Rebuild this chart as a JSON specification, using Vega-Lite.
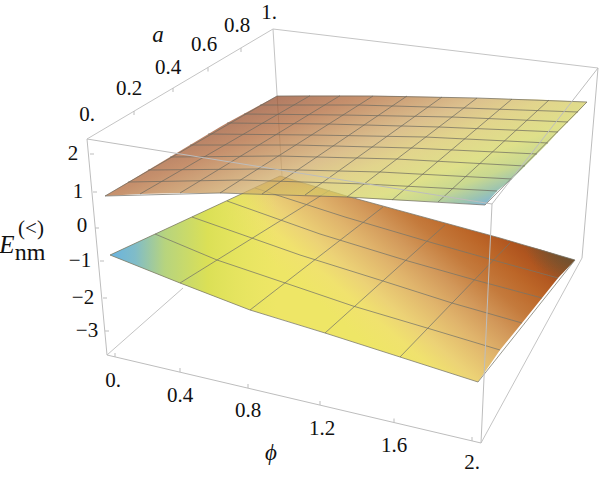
{
"$schema":"https://vega.github.io/schema/vega-lite/v6.json",
"width":600,"height":478,"padding":0,"autosize":{"type":"none"},
"background":"white",
"config":{"view":{"stroke":null}},
"datasets":{
"lower":[
{"px":110,"top":255,"bot":255},{"px":180,"top":222.5,"bot":283},{"px":250,"top":190,"bot":310},{"px":280,"top":176,"bot":319},{"px":325,"top":189.5,"bot":333},{"px":350,"top":197,"bot":341},{"px":400,"top":210.7,"bot":357},{"px":478,"top":232,"bot":382},{"px":500,"top":238,"bot":350},{"px":522,"top":244.5,"bot":323},{"px":542,"top":250,"bot":298},{"px":558,"top":255,"bot":278},{"px":575,"top":260,"bot":260}],
"upper":[
{"px":105,"top":196,"bot":196},{"px":140,"top":175,"bot":194},{"px":170,"top":157,"bot":193.2},{"px":180,"top":151,"bot":193},{"px":220,"top":127,"bot":193},{"px":227,"top":123,"bot":193.1},{"px":262,"top":104,"bot":194},{"px":277,"top":96,"bot":194.3},{"px":305,"top":95.7,"bot":195},{"px":347,"top":95.7,"bot":197},{"px":392,"top":96,"bot":200},{"px":438,"top":97,"bot":202},{"px":485,"top":98.2,"bot":205},{"px":497,"top":98.5,"bot":191},{"px":512,"top":99,"bot":179},{"px":525,"top":99.3,"bot":166},{"px":537,"top":99.6,"bot":154},{"px":548,"top":100,"bot":143},{"px":558,"top":100.5,"bot":132},{"px":568,"top":101,"bot":122},{"px":578,"top":101.5,"bot":112},{"px":587,"top":102,"bot":102}],
"back":[
{"a":87,"b":139,"c":273,"d":29},{"a":273,"b":29,"c":598,"d":68},{"a":273,"b":29,"c":282,"d":176},{"a":107,"b":355,"c":183,"d":288},{"a":582,"b":258,"c":481,"d":443}],
"front":[
{"a":87,"b":139,"c":492,"d":204},{"a":598,"b":68,"c":492,"d":204},{"a":87,"b":139,"c":107,"d":355},{"a":492,"b":204,"c":481,"d":443},{"a":598,"b":68,"c":582,"d":258},{"a":107,"b":355,"c":481,"d":443},
{"a":90,"b":154,"c":94,"d":154},{"a":93,"b":192,"c":97,"d":192},{"a":95,"b":228,"c":99,"d":228},{"a":100,"b":261,"c":104,"d":261},{"a":103,"b":298,"c":107,"d":298},{"a":105,"b":331,"c":109,"d":331},
{"a":134,"b":111,"c":134,"d":115},{"a":173,"b":88,"c":173,"d":92},{"a":208,"b":67.5,"c":208,"d":71.5},{"a":241,"b":48,"c":241,"d":52},
{"a":115,"b":357,"c":115,"d":353},{"a":180,"b":372,"c":180,"d":368},{"a":248,"b":388,"c":248,"d":384},{"a":320,"b":405,"c":320,"d":401},{"a":394,"b":422.5,"c":394,"d":418.5},{"a":472,"b":441,"c":472,"d":437}],
"lowerPhi":[
{"a":110,"b":255,"c":280,"d":176},{"a":180,"b":283,"c":330,"d":190},{"a":250,"b":310,"c":383,"d":207},{"a":325,"b":333,"c":445,"d":225},{"a":400,"b":357,"c":510,"d":243},{"a":478,"b":382,"c":575,"d":260}],
"upperPhi":[
{"a":105,"b":196,"c":277,"d":96},{"a":140,"b":194,"c":310,"d":95.7},{"a":180,"b":193,"c":340,"d":95.7},{"a":220,"b":193,"c":373,"d":96},{"a":262,"b":194,"c":407,"d":96},{"a":305,"b":195,"c":442,"d":97},{"a":347,"b":197,"c":477,"d":98},{"a":392,"b":200,"c":512,"d":99},{"a":438,"b":202,"c":549,"d":100},{"a":485,"b":205,"c":587,"d":102}],
"lowerA":[
{"j":0,"px":110,"py":255},{"j":0,"px":180,"py":283},{"j":0,"px":250,"py":310},{"j":0,"px":325,"py":333},{"j":0,"px":400,"py":357},{"j":0,"px":478,"py":382},
{"j":1,"px":155,"py":234},{"j":1,"px":217,"py":260},{"j":1,"px":300,"py":288},{"j":1,"px":353,"py":306},{"j":1,"px":427,"py":328},{"j":1,"px":500,"py":350},
{"j":2,"px":192,"py":217},{"j":2,"px":300,"py":255},{"j":2,"px":383,"py":281},{"j":2,"px":452,"py":303},{"j":2,"px":522,"py":323},
{"j":3,"px":227,"py":201},{"j":3,"px":320,"py":234},{"j":3,"px":408,"py":261},{"j":3,"px":475,"py":280},{"j":3,"px":542,"py":298},
{"j":4,"px":255,"py":188},{"j":4,"px":345,"py":217},{"j":4,"px":433,"py":243},{"j":4,"px":493,"py":260},{"j":4,"px":558,"py":278},
{"j":5,"px":280,"py":176},{"j":5,"px":350,"py":197},{"j":5,"px":500,"py":238},{"j":5,"px":575,"py":260}],
"upperA":[
{"j":0,"px":105,"py":196},{"j":0,"px":220,"py":193},{"j":0,"px":347,"py":197},{"j":0,"px":485,"py":205},
{"j":1,"px":128,"py":182},{"j":1,"px":241,"py":180},{"j":1,"px":365,"py":184},{"j":1,"px":497,"py":191},
{"j":2,"px":148,"py":170},{"j":2,"px":259,"py":169},{"j":2,"px":380,"py":172},{"j":2,"px":512,"py":179},
{"j":3,"px":170,"py":157},{"j":3,"px":278,"py":156},{"j":3,"px":396,"py":159},{"j":3,"px":525,"py":166},
{"j":4,"px":190,"py":145},{"j":4,"px":296,"py":145},{"j":4,"px":411,"py":148},{"j":4,"px":537,"py":154},
{"j":5,"px":208,"py":134},{"j":5,"px":312,"py":135},{"j":5,"px":425,"py":137},{"j":5,"px":548,"py":143},
{"j":6,"px":227,"py":123},{"j":6,"px":328,"py":124},{"j":6,"px":439,"py":127},{"j":6,"px":558,"py":132},
{"j":7,"px":244,"py":114},{"j":7,"px":343,"py":115},{"j":7,"px":452,"py":117},{"j":7,"px":568,"py":122},
{"j":8,"px":260,"py":105},{"j":8,"px":358,"py":105},{"j":8,"px":464,"py":108},{"j":8,"px":578,"py":112},
{"j":9,"px":277,"py":96},{"j":9,"px":373,"py":96},{"j":9,"px":477,"py":98},{"j":9,"px":587,"py":102}],
"labels":[
{"t":"2","px":73,"py":154},{"t":"1","px":78,"py":192},{"t":"0","px":82,"py":226},{"t":"−1","px":80,"py":261},{"t":"−2","px":83,"py":298},{"t":"−3","px":87,"py":331},
{"t":"0.","px":87,"py":115},{"t":"0.2","px":129,"py":89},{"t":"0.4","px":168,"py":68},{"t":"0.6","px":204,"py":45},{"t":"0.8","px":237,"py":26},{"t":"1.","px":269,"py":13},
{"t":"0.","px":113,"py":381},{"t":"0.4","px":180,"py":396},{"t":"0.8","px":248,"py":411},{"t":"1.2","px":322,"py":429},{"t":"1.6","px":394,"py":446},{"t":"2.","px":472,"py":463},
{"t":"(<)","px":31,"py":229}],
"title":[{"t":"nm","px":30,"py":253}],
"titleE":[{"t":"E","px":7,"py":244.5}],
"italics":[{"t":"a","px":158,"py":35},{"t":"ϕ","px":271,"py":453}]
},
"encoding":{
"x":{"field":"px","type":"quantitative","scale":{"domain":[0,600],"nice":false,"zero":false},"axis":null},
"y":{"field":"py","type":"quantitative","scale":{"domain":[478,0],"nice":false,"zero":false},"axis":null}
},
"layer":[
{"data":{"name":"back"},"mark":{"type":"rule","stroke":"#c4c4c4","strokeWidth":1},
 "encoding":{"x":{"field":"a","type":"quantitative"},"y":{"field":"b","type":"quantitative"},"x2":{"field":"c"},"y2":{"field":"d"}}},
{"data":{"name":"lower"},"mark":{"type":"area","fill":{"gradient":"linear","x1":0.265,"y1":0.258,"x2":0.777,"y2":-0.004,"stops":[{"offset":0,"color":"#eee666"},{"offset":0.128,"color":"#f0e26e"},{"offset":0.231,"color":"#ecd276"},{"offset":0.385,"color":"#e0b46c"},{"offset":0.513,"color":"#d2985a"},{"offset":0.641,"color":"#c47a3c"},{"offset":0.769,"color":"#bc6628"},{"offset":0.872,"color":"#b0551f"},{"offset":1,"color":"#8a4a20"}]}},
 "encoding":{"y":{"field":"top","type":"quantitative"},"y2":{"field":"bot"}}},
{"data":{"name":"lower"},"mark":{"type":"area","fill":{"gradient":"linear","x1":0,"y1":0,"x2":1,"y2":0,"stops":[{"offset":0,"color":"rgba(104,179,224,1)"},{"offset":0.054,"color":"rgba(128,188,200,1)"},{"offset":0.118,"color":"rgba(183,212,126,1)"},{"offset":0.21,"color":"rgba(219,224,86,1)"},{"offset":0.36,"color":"rgba(228,230,96,0)"},{"offset":1,"color":"rgba(228,230,96,0)"}]}},
 "encoding":{"y":{"field":"top","type":"quantitative"},"y2":{"field":"bot"}}},
{"data":{"name":"lower"},"mark":{"type":"area","fill":{"gradient":"radial","x1":1,"y1":0.408,"r1":0,"x2":1,"y2":0.408,"r2":0.11,"stops":[{"offset":0,"color":"rgba(90,88,62,0.95)"},{"offset":1,"color":"rgba(90,88,62,0)"}]}},
 "encoding":{"y":{"field":"top","type":"quantitative"},"y2":{"field":"bot"}}},
{"data":{"name":"lowerPhi"},"mark":{"type":"rule","stroke":"#77756a","strokeWidth":1,"opacity":0.75},
 "encoding":{"x":{"field":"a","type":"quantitative"},"y":{"field":"b","type":"quantitative"},"x2":{"field":"c"},"y2":{"field":"d"}}},
{"data":{"name":"lowerA"},"mark":{"type":"line","stroke":"#77756a","strokeWidth":1,"opacity":0.75},
 "encoding":{"detail":{"field":"j"}}},
{"data":{"name":"upper"},"mark":{"type":"area","fillOpacity":0.75,"fill":{"gradient":"linear","x1":0.357,"y1":0.005,"x2":1.12,"y2":0.453,"stops":[{"offset":0,"color":"#964e2e"},{"offset":0.17,"color":"#b26a3b"},{"offset":0.42,"color":"#d0ab68"},{"offset":0.56,"color":"#d8c666"},{"offset":0.73,"color":"#d4d663"},{"offset":0.84,"color":"#b6cb6b"},{"offset":0.93,"color":"#7bb096"},{"offset":1,"color":"#529bd0"}]}},
 "encoding":{"y":{"field":"top","type":"quantitative"},"y2":{"field":"bot"}}},
{"data":{"name":"upper"},"mark":{"type":"area","fill":{"gradient":"radial","x1":0.357,"y1":0,"r1":0,"x2":0.357,"y2":0,"r2":0.07,"stops":[{"offset":0,"color":"rgba(105,110,90,0.8)"},{"offset":1,"color":"rgba(105,110,90,0)"}]}},
 "encoding":{"y":{"field":"top","type":"quantitative"},"y2":{"field":"bot"}}},
{"data":{"name":"upperPhi"},"mark":{"type":"rule","stroke":"#6c6a60","strokeWidth":1,"opacity":0.7},
 "encoding":{"x":{"field":"a","type":"quantitative"},"y":{"field":"b","type":"quantitative"},"x2":{"field":"c"},"y2":{"field":"d"}}},
{"data":{"name":"upperA"},"mark":{"type":"line","stroke":"#6c6a60","strokeWidth":1,"opacity":0.7},
 "encoding":{"detail":{"field":"j"}}},
{"data":{"name":"front"},"mark":{"type":"rule","stroke":"#bdbdbd","strokeWidth":1},
 "encoding":{"x":{"field":"a","type":"quantitative"},"y":{"field":"b","type":"quantitative"},"x2":{"field":"c"},"y2":{"field":"d"}}},
{"data":{"name":"labels"},"mark":{"type":"text","font":"Liberation Serif","fontSize":21,"color":"#111111","align":"center","baseline":"middle"},
 "encoding":{"text":{"field":"t"}}},
{"data":{"name":"title"},"mark":{"type":"text","font":"Liberation Serif","fontSize":24,"color":"#111111","align":"center","baseline":"middle"},
 "encoding":{"text":{"field":"t"}}},
{"data":{"name":"titleE"},"mark":{"type":"text","font":"Liberation Serif","fontStyle":"italic","fontSize":25,"color":"#111111","align":"center","baseline":"middle"},
 "encoding":{"text":{"field":"t"}}},
{"data":{"name":"italics"},"mark":{"type":"text","font":"Liberation Serif","fontStyle":"italic","fontSize":23,"color":"#111111","align":"center","baseline":"middle"},
 "encoding":{"text":{"field":"t"}}}
]
}
